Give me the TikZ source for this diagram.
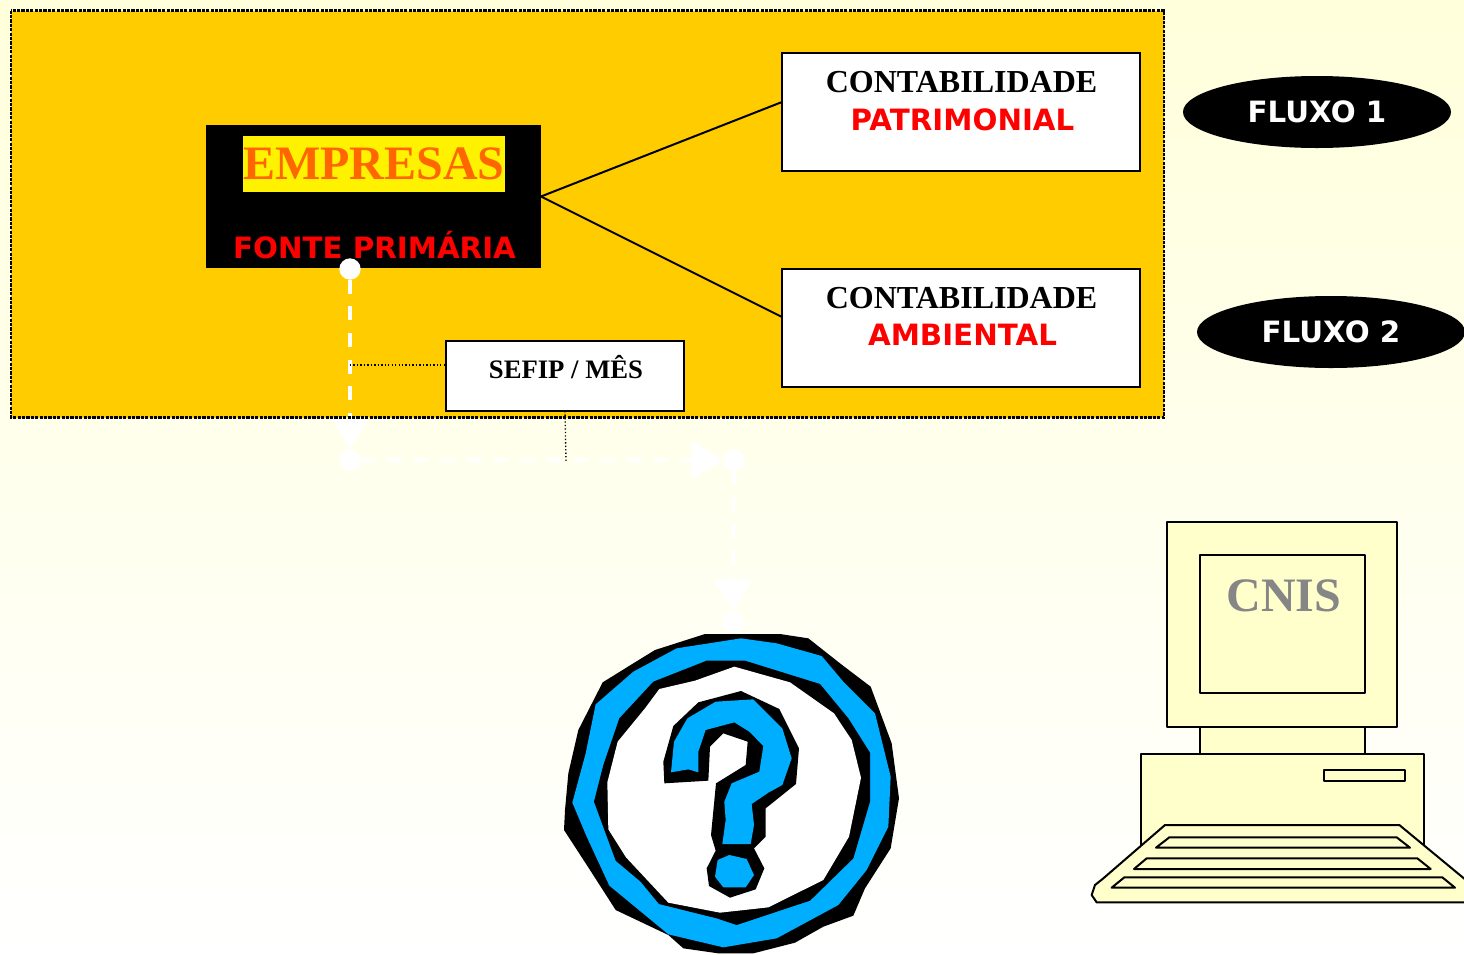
\documentclass[tikz,border=0pt]{standalone}
\usepackage{fontspec}
\setmainfont{Liberation Serif}
\newfontfamily\vb{DejaVu Sans}[BoldFont={DejaVu Sans Bold}]
\usetikzlibrary{arrows.meta,shapes.geometric}
\definecolor{gold}{HTML}{FFCC00}
\definecolor{skyb}{HTML}{00AEFF}
\definecolor{pale}{HTML}{FFFFCC}
\definecolor{ora}{HTML}{FF6600}
\definecolor{cnisg}{HTML}{868686}
\tikzset{
  x=0.75pt,y=-0.75pt,
  whitebox/.style={draw=black,fill=white,line width=1.5pt,inner sep=0pt,outer sep=0pt,anchor=north west},
  serifT/.style={font=\bfseries\fontsize{24}{24}\selectfont,inner sep=0pt},
  sansT/.style={font=\vb\bfseries\fontsize{22}{22}\selectfont,inner sep=0pt,text=red},
  fluxo/.style={ellipse,fill=black,text=white,font=\vb\bfseries\fontsize{22}{22}\selectfont,minimum width=201pt,minimum height=54pt,inner sep=0pt,outer sep=0pt},
  thin line/.style={draw=black,line width=1.5pt},
  dotline/.style={draw=black,line width=1pt,dash pattern=on 1pt off 1.6pt},
  flow/.style={draw=white,line width=3pt,dash pattern=on 10.5pt off 9.5pt,-{Triangle[length=24pt,width=28pt]}},
  flowdot/.style={circle,fill=white,minimum size=16pt,inner sep=0pt,outer sep=0pt},
  pc/.style={draw=black,fill=pale,line width=1.5pt,line join=round},
}
\begin{document}
\begin{tikzpicture}
\clip (0,0) rectangle (1464,954);
\shade[top color=white!86!yellow,middle color=white!96!yellow,bottom color=white] (0,0) rectangle (1464,954);
\node[draw=none,fill=gold,inner sep=0pt,outer sep=0pt,anchor=north west,minimum width=864.75pt,minimum height=305.25pt] (panel) at (11,10.5) {};

% Empresas
\node[fill=black,inner sep=0pt,outer sep=0pt,anchor=north west,minimum width=251.25pt,minimum height=107.25pt] (emp) at (206,125) {};
\node[fill=yellow,text=ora,font=\bfseries\fontsize{36}{36}\selectfont,inner sep=0pt,outer sep=0pt,minimum width=196.5pt,minimum height=42pt] (emptxt) at (374,164) {EMPRESAS};
\node[sansT] (fonte) at (374.5,245) {FONTE PRIMÁRIA};

% Boxes
\node[whitebox,minimum width=268.5pt,minimum height=88.5pt] (patr) at (782,53) {};
\node[serifT] (patr1) at (961.5,82) {CONTABILIDADE};
\node[sansT] (patr2) at (962.5,119.5) {PATRIMONIAL};
\node[whitebox,minimum width=268.5pt,minimum height=88.5pt] (amb) at (782,269) {};
\node[serifT] (amb1) at (961.5,298) {CONTABILIDADE};
\node[sansT] (amb2) at (962.5,335) {AMBIENTAL};
\node[whitebox,minimum width=178.5pt,minimum height=52.5pt] (sefip) at (446,341) {};
\node[font=\bfseries\fontsize{20}{20}\selectfont,inner sep=0pt] (sefiptxt) at (566,367) {SEFIP / MÊS};

% Lines from Empresas
\coordinate (pin) at (782,102);
\coordinate (ain) at (782,317);
\draw[thin line] (emp.east) -- (pin);
\draw[thin line] (emp.east) -- (ain);

% Flow
\node[flowdot] (d1) at (350,269) {};
\node[flowdot] (d2) at (350,460) {};
\node[flowdot] (d3) at (734,460) {};
\node[flowdot] (d4) at (733,622) {};
\draw[flow] (d1) -- (d2);
\draw[flow] (d2) -- (d3);
\draw[flow] (d3) -- (d4);

% Dotted connectors
\coordinate (j1) at (350,365);
\coordinate (s1) at (445,365);
\coordinate (j2) at (566,461);
\draw[dotline] (j1) -- (s1);
\draw[dotline] (sefip.south) -- (j2);

% Panel border on top
\draw[draw=black,line width=2pt,dash pattern=on 2.4pt off 0.9pt] (panel.north west) rectangle (panel.south east);

% Fluxo
\node[fluxo] (f1) at (1317,112) {FLUXO 1};
\node[fluxo] (f2) at (1331,332) {FLUXO 2};

% Question mark
\begin{scope}[shift={(550,620)},x=0.25pt,y=-0.25pt]
\fill[black] (465,42)--(690,42)--(775,55)--(870,130)--(962,200)--(1025,370)--(1047,535)--(1022,685)--(945,805)--(910,887)--(820,920)--(735,968)--(610,1000)--(505,1000)--(400,985)--(355,945)--(197,870)--(120,750)--(42,630)--(45,570)--(55,460)--(85,330)--(158,187)--(250,130)--(315,90)--cycle;
\fill[skyb] (573,55)--(680,70)--(815,108)--(880,185)--(975,280)--(1022,470)--(1015,620)--(950,750)--(865,855)--(680,955)--(520,982)--(355,943)--(178,797)--(110,650)--(67,548)--(107,400)--(137,253)--(250,155)--(380,85)--cycle;
\fill[black] (470,122)--(585,122)--(810,192)--(895,295)--(960,398)--(960,545)--(910,715)--(780,842)--(560,915)--(500,895)--(327,852)--(272,785)--(197,722)--(132,545)--(160,435)--(208,295)--(310,185)--cycle;
\fill[white] (553,140)--(720,187)--(852,280)--(905,360)--(933,473)--(897,650)--(820,780)--(655,862)--(510,878)--(355,848)--(228,712)--(175,628)--(172,487)--(203,365)--(285,265)--(328,207)--(435,182)--cycle;
\fill[black] (573,213)--(688,267)--(747,385)--(738,492)--(647,565)--(647,650)--(612,685)--(643,745)--(617,808)--(540,833)--(477,798)--(470,745)--(497,692)--(483,645)--(498,490)--(587,435)--(593,365)--(520,340)--(480,380)--(475,482)--(343,490)--(340,425)--(370,318)--(445,247)--cycle;
\fill[skyb] (497,245)--(610,238)--(697,325)--(725,415)--(697,495)--(655,518)--(605,552)--(612,615)--(602,672)--(517,672)--(527,600)--(523,545)--(545,490)--(628,455)--(640,378)--(598,335)--(553,307)--(467,330)--(445,395)--(445,457)--(415,448)--(363,457)--(372,365)--(412,295)--cycle;
\fill[skyb] (538,705)--(590,717)--(612,765)--(587,802)--(520,802)--(495,770)--(503,720)--cycle;
\end{scope}

% Computer
\draw[pc] (1200,720) rectangle (1365,760);
\draw[pc] (1167,522) rectangle (1397,727);
\draw[pc] (1200,555) rectangle (1365,693);
\draw[pc] (1141,754) rectangle (1424,860);
\draw[pc] (1200,727) -- (1200,754) (1365,727) -- (1365,754);
\draw[pc] (1324,770) rectangle (1405,781);
\begin{scope}[shift={(1080,510)},x=0.25pt,y=-0.25pt]
\draw[pc] (255,945)--(958,945)--(1200,1145)--(1200,1177)--(50,1177)--(35,1155)--(45,1125)--(70,1105)--cycle;
\draw[pc] (268,982)--(950,982)--(990,1013)--(228,1013)--cycle;
\draw[pc] (200,1045)--(1012,1045)--(1052,1077)--(162,1077)--cycle;
\draw[pc] (133,1102)--(1087,1102)--(1125,1133)--(95,1133)--cycle;
\end{scope}
\node[text=cnisg,font=\bfseries\fontsize{36}{36}\selectfont,inner sep=0pt] (cnis) at (1284,596) {CNIS};
\end{tikzpicture}
\end{document}
